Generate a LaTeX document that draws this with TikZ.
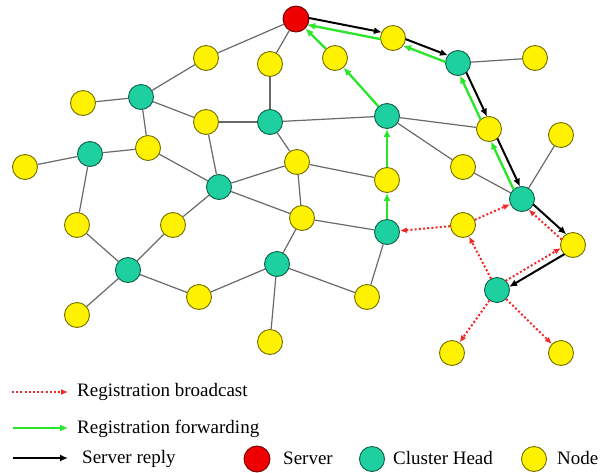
\documentclass[tikz,border=0pt]{standalone}
\usepackage{fontspec}
\setmainfont{Liberation Serif}
\newfontfamily\tnr{Liberation Serif}
\usetikzlibrary{arrows.meta,calc}
\definecolor{chead}{RGB}{30,208,160}
\definecolor{ynode}{RGB}{255,242,0}
\definecolor{srv}{RGB}{238,0,0}
\definecolor{fwd}{RGB}{40,230,40}
\definecolor{bcast}{RGB}{240,40,40}
\definecolor{edgec}{RGB}{105,105,105}
\tikzset{
  nd/.style={circle, minimum size=25pt, inner sep=0pt, line width=0.9pt},
  yel/.style={nd, fill=ynode, draw=ynode!45!black},
  chd/.style={nd, fill=chead, draw=chead!45!black},
  srvs/.style={nd, fill=srv, draw=srv!45!black, minimum size=26pt},
  link/.style={draw=edgec, line width=1.2pt},
  fwdarr/.style={draw=fwd, line width=2.3pt, -{Latex[length=8pt,width=7pt]}},
  reparr/.style={draw=black, line width=2pt, -{Latex[length=8pt,width=7pt]}},
  bcarr/.style={draw=bcast, line width=2pt, dash pattern=on 2pt off 2.2pt, -{Latex[length=7pt,width=6pt]}},
  lab/.style={font=\tnr\fontsize{19}{22}\selectfont, inner sep=0pt, anchor=base west},
}
\newcommand\pararrow[3]{\draw[#1, shorten <=12pt, shorten >=12pt] ($(#2.center)!3.5pt!90:(#3.center)$) -- ($(#3.center)!3.5pt!-90:(#2.center)$);}
\begin{document}
\begin{tikzpicture}[x=1pt,y=-1pt]
\useasboundingbox (0,0) rectangle (606,472);
% server
\node[srvs] (S) at (296,19) {};
% cluster heads
\node[chd] (c1) at (141,97) {};
\node[chd] (c2) at (90,154) {};
\node[chd] (c3) at (270,122) {};
\node[chd] (c4) at (219,187) {};
\node[chd] (c5) at (458,63) {};
\node[chd] (c6) at (387,116) {};
\node[chd] (c7) at (522,199) {};
\node[chd] (c8) at (387,232) {};
\node[chd] (c9) at (128,270) {};
\node[chd] (c10) at (277,264) {};
\node[chd] (c11) at (497,290) {};
% nodes
\node[yel] (y1) at (206,58) {};
\node[yel] (y2) at (270,64) {};
\node[yel] (y3) at (83,103) {};
\node[yel] (y4) at (206,122) {};
\node[yel] (y5) at (148,148) {};
\node[yel] (y6) at (25,167) {};
\node[yel] (y7) at (297,162) {};
\node[yel] (y8) at (393,38) {};
\node[yel] (y9) at (335,58) {};
\node[yel] (y10) at (535,58) {};
\node[yel] (y11) at (489,129) {};
\node[yel] (y12) at (561,135) {};
\node[yel] (y13) at (463,167) {};
\node[yel] (y14) at (387,180) {};
\node[yel] (y15) at (302,218) {};
\node[yel] (y16) at (77,225) {};
\node[yel] (y17) at (173,225) {};
\node[yel] (y18) at (77,315) {};
\node[yel] (y19) at (199,297) {};
\node[yel] (y20) at (270,342) {};
\node[yel] (y21) at (367,297) {};
\node[yel] (y22) at (463,225) {};
\node[yel] (y23) at (573,245) {};
\node[yel] (y24) at (452,353) {};
\node[yel] (y25) at (561,353) {};
% links
\foreach \a/\b in {S/y1,S/y2,y1/c1,c1/y3,c1/y4,c1/y5,y2/c3,y4/c3,c3/y7,c3/c6,c2/y6,c2/y5,c2/y16,y4/c4,y5/c4,c4/y7,c4/y17,c4/y15,y7/y15,y7/y14,y15/c10,y15/c8,y16/c9,y17/c9,c9/y18,c9/y19,y19/c10,c10/y20,c10/y21,c8/y21,c6/y11,c6/y13,y13/c7,y12/c7,c5/y10}
  \draw[link] (\a) -- (\b);
% registration forwarding
\draw[fwdarr] (c8) -- (y14);
\draw[fwdarr] (y14) -- (c6);
\draw[fwdarr] (c6) -- (y9);
\draw[fwdarr] (y9) -- (S);
\pararrow{fwdarr}{c7}{y11}
\pararrow{fwdarr}{y11}{c5}
\pararrow{fwdarr}{c5}{y8}
\pararrow{fwdarr}{y8}{S}
% server reply
\pararrow{reparr}{S}{y8}
\pararrow{reparr}{y8}{c5}
\pararrow{reparr}{c5}{y11}
\pararrow{reparr}{y11}{c7}
\pararrow{reparr}{c7}{y23}
\pararrow{reparr}{y23}{c11}
% registration broadcast
\draw[bcarr] (c11) -- (y22);
\draw[bcarr] (c11) -- (y24);
\draw[bcarr] (c11) -- (y25);
\draw[bcarr] (y22) -- (c8);
\draw[bcarr] (y22) -- (c7);
\pararrow{bcarr}{c11}{y23}
\pararrow{bcarr}{y23}{c7}
% legend
\coordinate (l1a) at (12,392); \coordinate (l1b) at (68,392);
\coordinate (l2a) at (13,428); \coordinate (l2b) at (68,428);
\coordinate (l3a) at (13,458); \coordinate (l3b) at (68,458);
\draw[bcarr] (l1a) -- (l1b);
\draw[fwdarr] (l2a) -- (l2b);
\draw[reparr, line width=1.6pt] (l3a) -- (l3b);
\node[lab] (t1) at (77,396) {Registration broadcast};
\node[lab] (t2) at (77,433) {Registration forwarding};
\node[lab] (t3) at (82,463) {Server reply};
\node[srvs] (ls) at (257,459) {};
\node[lab] (t4) at (283,464) {Server};
\node[chd] (lc) at (372,459) {};
\node[lab] (t5) at (393,464) {Cluster Head};
\node[yel] (ly) at (534,459) {};
\node[lab] (t6) at (557,464) {Node};
\end{tikzpicture}
\end{document}
